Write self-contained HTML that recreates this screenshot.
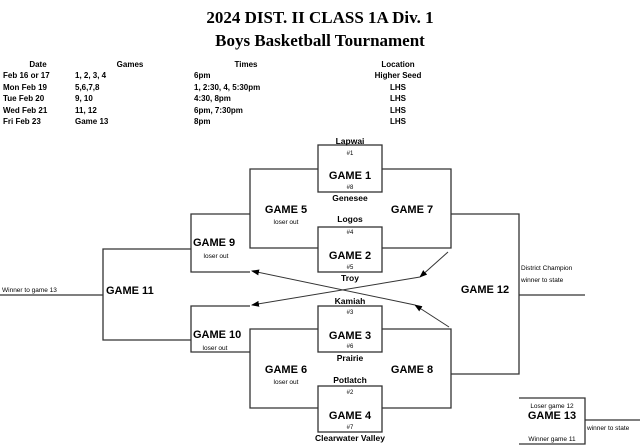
<!DOCTYPE html>
<html><head><style>
html,body{margin:0;padding:0;background:#fff;width:640px;height:445px;overflow:hidden}
svg text{font-family:"Liberation Sans",Arial,sans-serif;fill:#000}
</style></head><body>
<svg width="640" height="445" viewBox="0 0 640 445" xmlns="http://www.w3.org/2000/svg">
<defs><marker id="a" markerWidth="8" markerHeight="6" refX="7" refY="3" orient="auto" markerUnits="userSpaceOnUse"><path d="M0,0 L8,3 L0,6 z" fill="#000"/></marker></defs>
<text x="320" y="23" text-anchor="middle" style="font-family:'Liberation Serif',serif;font-weight:bold;font-size:17px">2024 DIST. II CLASS 1A Div. 1</text>
<text x="320" y="46" text-anchor="middle" style="font-family:'Liberation Serif',serif;font-weight:bold;font-size:17px">Boys Basketball Tournament</text>
<g font-size="8" font-weight="bold">
<text x="38" y="67" text-anchor="middle">Date</text>
<text x="130" y="67" text-anchor="middle">Games</text>
<text x="246" y="67" text-anchor="middle">Times</text>
<text x="398" y="67" text-anchor="middle">Location</text>
<text x="3" y="78">Feb 16 or 17</text><text x="75" y="78">1, 2, 3, 4</text><text x="194" y="78">6pm</text><text x="398" y="78" text-anchor="middle">Higher Seed</text>
<text x="3" y="90">Mon Feb 19</text><text x="75" y="90">5,6,7,8</text><text x="194" y="90">1, 2:30, 4, 5:30pm</text><text x="398" y="90" text-anchor="middle">LHS</text>
<text x="3" y="101">Tue Feb 20</text><text x="75" y="101">9, 10</text><text x="194" y="101">4:30, 8pm</text><text x="398" y="101" text-anchor="middle">LHS</text>
<text x="3" y="113">Wed Feb 21</text><text x="75" y="113">11, 12</text><text x="194" y="113">6pm, 7:30pm</text><text x="398" y="113" text-anchor="middle">LHS</text>
<text x="3" y="124">Fri Feb 23</text><text x="75" y="124">Game 13</text><text x="194" y="124">8pm</text><text x="398" y="124" text-anchor="middle">LHS</text>
</g>
<g stroke="#333" stroke-width="1.3" fill="none">
<rect x="318" y="145" width="64" height="47"/>
<rect x="318" y="227" width="64" height="45"/>
<rect x="318" y="306" width="64" height="46"/>
<rect x="318" y="386" width="64" height="46"/>
<polyline points="318,169 250,169 250,248 318,248"/>
<polyline points="382,169 451,169 451,248 382,248"/>
<polyline points="318,329 250,329 250,408 318,408"/>
<polyline points="382,329 451,329 451,408 382,408"/>
<polyline points="451,214 519,214 519,374 451,374"/>
<line x1="519" y1="295" x2="585" y2="295"/>
<polyline points="250,214 191,214 191,272 250,272"/>
<polyline points="250,306 191,306 191,352 250,352"/>
<polyline points="191,249 103,249 103,340 191,340"/>
<line x1="0" y1="295" x2="103" y2="295"/>
<polyline points="519,398 585,398 585,444 519,444"/>
<line x1="585" y1="420" x2="640" y2="420"/>
</g>
<g stroke="#333" stroke-width="1" fill="none">
<line x1="448" y1="252" x2="420" y2="277" marker-end="url(#a)"/>
<line x1="420" y1="277" x2="252" y2="305" marker-end="url(#a)"/>
<line x1="449" y1="327" x2="415" y2="305" marker-end="url(#a)"/>
<line x1="415" y1="305" x2="252" y2="271" marker-end="url(#a)"/>
</g>
<g text-anchor="middle">
<g font-size="8.5" font-weight="bold">
<text x="350" y="144">Lapwai</text><text x="350" y="201">Genesee</text>
<text x="350" y="222">Logos</text><text x="350" y="281">Troy</text>
<text x="350" y="304">Kamiah</text><text x="350" y="361">Prairie</text>
<text x="350" y="383">Potlatch</text><text x="350" y="441">Clearwater Valley</text>
</g>
<g font-size="6">
<text x="350" y="155">#1</text><text x="350" y="189">#8</text>
<text x="350" y="234">#4</text><text x="350" y="269">#5</text>
<text x="350" y="314">#3</text><text x="350" y="348">#6</text>
<text x="350" y="394">#2</text><text x="350" y="429">#7</text>
</g>
<g font-size="11" font-weight="bold">
<text x="350" y="179">GAME 1</text><text x="350" y="259">GAME 2</text>
<text x="350" y="339">GAME 3</text><text x="350" y="419">GAME 4</text>
<text x="286" y="213">GAME 5</text><text x="412" y="213">GAME 7</text>
<text x="286" y="373">GAME 6</text><text x="412" y="373">GAME 8</text>
<text x="485" y="293">GAME 12</text>
</g>
<g font-size="6.5">
<text x="286" y="224">loser out</text><text x="286" y="384">loser out</text>
<text x="216" y="258">loser out</text><text x="215" y="350">loser out</text>
<text x="552" y="408">Loser game 12</text><text x="552" y="441">Winner game 11</text>
</g>
<text x="552" y="419" font-size="11" font-weight="bold">GAME 13</text>
</g>
<g font-size="11" font-weight="bold">
<text x="193" y="246">GAME 9</text><text x="193" y="338">GAME 10</text>
<text x="106" y="294">GAME 11</text>
</g>
<g font-size="6.5">
<text x="521" y="270">District Champion</text><text x="521" y="282">winner to state</text>
<text x="2" y="292">Winner to game 13</text><text x="587" y="430">winner to state</text>
</g>
</svg>
</body></html>
